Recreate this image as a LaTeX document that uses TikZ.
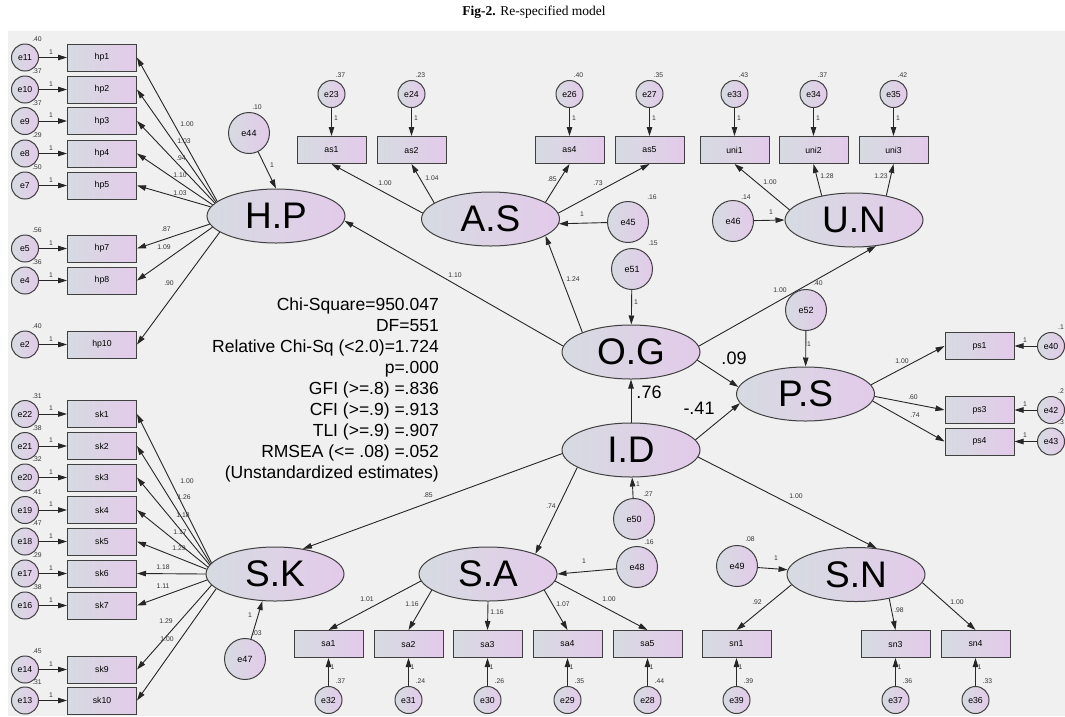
\documentclass[tikz,border=0pt]{standalone}
\usepackage{fontspec}
\setmainfont{Liberation Sans}
\newfontfamily\seriffont{Liberation Serif}
\usetikzlibrary{shapes.geometric,arrows.meta}
\definecolor{bg}{HTML}{F0F0F0}
\definecolor{fillL}{HTML}{D6DBE1}
\definecolor{fillR}{HTML}{E3CAEA}
\definecolor{edgecol}{HTML}{404040}
\definecolor{arrcol}{HTML}{262626}
\tikzset{
  obs/.style={draw=edgecol, line width=1pt, left color=fillL, right color=fillR,
    minimum width=69pt, minimum height=27pt, inner sep=0pt,
    font=\fontsize{8.7}{9}\selectfont},
  err/.style={circle, draw=edgecol, line width=1pt, left color=fillL, right color=fillR,
    minimum size=27pt, inner sep=0pt, font=\fontsize{8.7}{9}\selectfont},
  dist/.style={err, minimum size=41pt, font=\fontsize{9}{9}\selectfont},
  lat/.style={ellipse, draw=edgecol, line width=1pt, left color=fillL, right color=fillR,
    minimum width=138pt, minimum height=54pt, inner sep=0pt,
    font=\fontsize{37}{37}\selectfont},
  arr/.style={draw=arrcol, line width=0.9pt, -{Triangle[length=9pt,width=5.5pt]}},
  lbl/.style={font=\fontsize{6.8}{7}\selectfont, inner sep=0pt, text=black!80},
  big/.style={font=\fontsize{18}{18}\selectfont, inner sep=0pt},
  stat/.style={font=\fontsize{17.5}{21}\selectfont, inner sep=0pt, anchor=base east},
}
\begin{document}
\begin{tikzpicture}[x=1pt,y=-1pt]
\useasboundingbox (0,0) rectangle (1065,716);
\fill[bg] (8,31) rectangle (1065,716);
\node (title) at (534,12) {\seriffont\fontsize{13.5}{14}\selectfont\textbf{Fig-2.} Re-specified model};

% latent variables
\node[lat] (HP) at (276,216) {H.P};
\node[lat] (AS) at (490.5,219) {A.S};
\node[lat] (UN) at (854,220) {U.N};
\node[lat] (OG) at (631,352) {O.G};
\node[lat] (PS) at (805.5,394) {P.S};
\node[lat] (ID) at (631,450) {I.D};
\node[lat] (SK) at (275,574) {S.K};
\node[lat] (SA) at (488,574) {S.A};
\node[lat] (SN) at (856,574.5) {S.N};

% left column indicators
\foreach \b/\e/\y/\v in {hp1/e11/57.5/.40, hp2/e10/89.5/.37, hp3/e9/121/.37, hp4/e8/153.5/.29, hp5/e7/185.5/.50, hp7/e5/248.5/.56, hp8/e4/280.5/.36, hp10/e2/344.5/.40,
  sk1/e22/414/.31, sk2/e21/446/.38, sk3/e20/477.5/.32, sk4/e19/510/.41, sk5/e18/541.5/.47, sk6/e17/573.5/.29, sk7/e16/605.5/.38, sk9/e14/669.5/.45, sk10/e13/700.5/.31}{
  \node[obs] (\b) at (102,\y) {\b};
  \node[err] (\e) at (25,\y) {\e};
  \draw[arr] (\e) -- (\b);
  \node[lbl] (v\e) at (37,\y-18) {\v};
  \node[lbl] (o\e) at (51,\y-5.5) {1};
}
% top indicators
\foreach \b/\e/\x/\v in {as1/e23/331.5/.37, as2/e24/411.5/.23, as4/e26/569.5/.40, as5/e27/649.5/.35, uni1/e33/734.5/.43, uni2/e34/813.5/.37, uni3/e35/893.5/.42}{
  \node[obs] (\b) at (\x,150) {\b};
  \node[err] (\e) at (\x,94) {\e};
  \draw[arr] (\e) -- (\b);
  \node[lbl] (v\e) at (\x+9,75) {\v};
  \node[lbl] (o\e) at (\x+4.5,118) {1};
}
% bottom indicators
\foreach \b/\e/\x/\v in {sa1/e32/328.5/.37, sa2/e31/408.5/.24, sa3/e30/487.5/.26, sa4/e29/567.5/.35, sa5/e28/647.5/.44, sn1/e39/736.5/.39, sn3/e37/895.5/.36, sn4/e36/975.5/.33}{
  \node[obs] (\b) at (\x,644) {\b};
  \node[err] (\e) at (\x,700) {\e};
  \draw[arr] (\e) -- (\b);
  \node[lbl] (v\e) at (\x+12,681) {\v};
  \node[lbl] (o\e) at (\x+4,667) {1};
}
% right indicators
\foreach \b/\e/\y/\v/\ly in {ps1/e40/346/.1/327, ps3/e42/410/.2/391, ps4/e43/441.5/.3/422}{
  \node[obs] (\b) at (979.5,\y) {\b};
  \node[err] (\e) at (1051,\y) {\e};
  \draw[arr] (\e) -- (\b);
  \node[lbl, anchor=west] (v\e) at (1058,\ly) {\v};
  \node[lbl] (o\e) at (1025,\y-6) {1};
}

% loadings H.P and S.K
\foreach \b/\a/\l/\lx/\ly in {hp1/166/1.00/187/124, hp2/167/1.03/184/141, hp3/168/.94/181/158, hp4/170/1.10/180/175, hp5/172/1.03/180/193, hp7/187/.87/166/229, hp8/190/1.09/164/247, hp10/196/.90/169/283}{
  \draw[arr] (HP.\a) -- (\b.east);
  \node[lbl] (l\b) at (\lx,\ly) {\l};
}
\foreach \b/\a/\l/\lx/\ly in {sk1/170/1.00/187/481, sk2/171/1.26/184/497, sk3/172/1.18/183/515, sk4/174/1.17/180/532, sk5/176/1.29/179/548, sk6/180/1.18/163/567, sk7/185/1.11/163/586, sk9/190/1.29/166/621, sk10/194/1.00/167/639}{
  \draw[arr] (SK.\a) -- (\b.east);
  \node[lbl] (l\b) at (\lx,\ly) {\l};
}
% loadings A.S, U.N
\foreach \b/\src/\a/\l/\lx/\ly in {as1/AS/175/1.00/385/183, as2/AS/164/1.04/432/178, as4/AS/17/.85/552/179, as5/AS/5/.73/598/183,
  uni1/UN/171/1.00/770/182, uni2/UN/143/1.28/827/176, uni3/UN/37/1.23/881/176}{
  \draw[arr] (\src.\a) -- (\b.south);
  \node[lbl] (l\b) at (\lx,\ly) {\l};
}
% loadings S.A, S.N
\foreach \b/\src/\a/\l/\lx/\ly in {sa1/SA/186/1.01/367/599, sa2/SA/196/1.16/412/604, sa3/SA/-90/1.16/497/612, sa4/SA/-16/1.07/563/604, sa5/SA/-6/1.00/609/599,
  sn1/SN/189/.92/757/602, sn3/SN/-36/.98/899/610, sn4/SN/-7/1.00/957/602}{
  \draw[arr] (\src.\a) -- (\b.north);
  \node[lbl] (l\b) at (\lx,\ly) {\l};
}
% loadings P.S
\foreach \b/\a/\l/\lx/\ly in {ps1/8/1.00/902/361, ps3/-2/.60/913/397, ps4/-6/.74/915/415}{
  \draw[arr] (PS.\a) -- (\b.west);
  \node[lbl] (l\b) at (\lx,\ly) {\l};
}

% disturbances
\node[dist] (e44) at (249,133) {e44};
\node[dist] (e45) at (628,222) {e45};
\node[dist] (e51) at (632,269) {e51};
\node[dist] (e46) at (733,221) {e46};
\node[dist] (e52) at (806,310) {e52};
\node[dist] (e50) at (634,519) {e50};
\node[dist] (e48) at (637,567) {e48};
\node[dist] (e49) at (737,566) {e49};
\node[dist] (e47) at (245,659) {e47};
\draw[arr] (e44) -- (HP.north);
\draw[arr] (e45) -- (AS.-4);
\draw[arr] (e51) -- (OG);
\draw[arr] (e46) -- (UN.west);
\draw[arr] (e52) -- (PS);
\draw[arr] (e50) -- (ID);
\draw[arr] (e48) -- (SA.east);
\draw[arr] (e49) -- (SN.176);
\draw[arr] (e47) -- (SK.-115);
\foreach \n/\t/\ox/\oy/\vx/\vy in {e44/.10/272/165/257/107, e45/.16/582/214/652/197, e51/.15/636/302/653/243, e46/.14/771/212/746/197,
  e52/.40/809/344/818/283, e50/.27/638/484/648/494, e48/.16/584/561/649/542, e49/.08/776/558/750/539, e47/.03/250/615/257/633}{
  \node[lbl] (o\n) at (\ox,\oy) {1};
  \node[lbl] (v\n) at (\vx,\vy) {\t};
}

% structural paths
\draw[arr] (OG.175) -- (HP.-4);
\node[lbl] (lOGHP) at (455,275) {1.10};
\draw[arr] (OG.158) -- (AS.-17);
\node[lbl] (lOGAS) at (573,279) {1.24};
\draw[arr] (OG.5) -- (UN.-50);
\node[lbl] (lOGUN) at (780,290) {1.00};
\draw[arr] (OG.-7) -- (PS.174);
\node[big] (lOGPS) at (734,358) {.09};
\draw[arr] (ID) -- (OG);
\node[big] (lIDOG) at (649,392) {.76};
\draw[arr] (ID.9) -- (PS.188);
\node[big] (lIDPS) at (699,408) {-.41};
\draw[arr] (ID.183) -- (SK.42);
\node[lbl] (lIDSK) at (428,495) {.85};
\draw[arr] (ID.198) -- (SA.23);
\node[lbl] (lIDSA) at (551,506) {.74};
\draw[arr] (ID.-6) -- (SN.52);
\node[lbl] (lIDSN) at (796,496) {1.00};

% fit statistics
\foreach \t [count=\i from 0] in {Chi-Square=950.047, DF=551, Relative Chi-Sq (<2.0)=1.724, p=.000, GFI (>=.8) =.836, CFI (>=.9) =.913, TLI (>=.9) =.907, RMSEA (<= .08) =.052, (Unstandardized estimates)}{
  \node[stat] (s\i) at (439,310+21.1*\i) {\t};
}
\end{tikzpicture}
\end{document}
